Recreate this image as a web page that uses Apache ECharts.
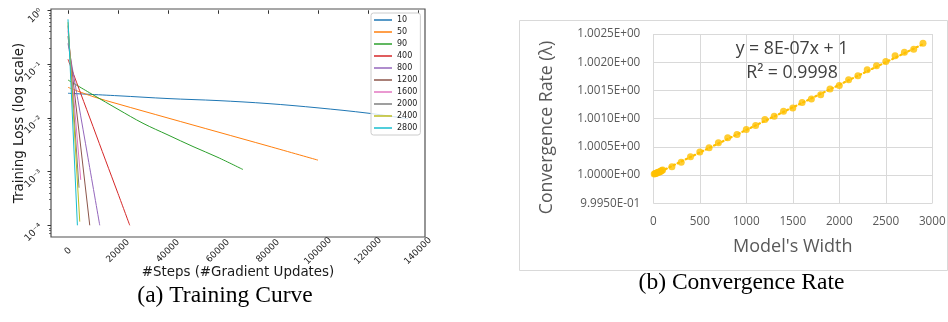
<!DOCTYPE html>
<html>
<head>
<meta charset="utf-8">
<script src="https://cdn.jsdelivr.net/npm/echarts@6/dist/echarts.min.js"></script>
<style>
  html, body { margin: 0; padding: 0; background: #ffffff; }
  #chart { width: 948px; height: 322px; }
</style>
</head>
<body>
<div id="chart"></div>
<script>
// ---- (a) Training curves: [step, training loss] for each model width ----
const widthNames = ['10', '50', '90', '400', '800', '1200', '1600', '2000', '2400', '2800'];
const curve10 = [[0, 0.0286], [20000, 0.0257], [40000, 0.0228], [60000, 0.0209], [80000, 0.0184], [100000, 0.0153], [120000, 0.0122], [136000, 0.0096]];
const curve50 = [[0, 0.0369], [10000, 0.0248], [20000, 0.0181], [40000, 0.0099], [60000, 0.00544], [80000, 0.00299], [100000, 0.00163]];
const curve90 = [[0, 0.0505], [10000, 0.0268], [20000, 0.0144], [30000, 0.0079], [40000, 0.00479], [50000, 0.00292], [60000, 0.00183], [70000, 0.00109]];
const curve400 = [[0, 0.1226], [5000, 0.029], [10000, 0.0069], [15000, 0.00163], [20000, 0.00039], [24700, 0.0001]];
const curve800 = [[0, 0.243], [4000, 0.0209], [8000, 0.0018], [12700, 0.0001]];
const curve1200 = [[0, 0.33], [8700, 0.0001]];
const curve1600 = [[0, 0.42], [5100, 0.0007]];
const curve2000 = [[0, 0.52], [4400, 0.0005]];
const curve2400 = [[0, 0.6], [4700, 0.000117]];
const curve2800 = [[0, 0.68], [3760, 0.0001]];
const curves = [curve10, curve50, curve90, curve400, curve800, curve1200, curve1600, curve2000, curve2400, curve2800];
const curveColors = ['#1f77b4', '#ff7f0e', '#2ca02c', '#d62728', '#9467bd', '#8c564b', '#e377c2', '#7f7f7f', '#bcbd22', '#17becf'];
const stepTicks = [0, 20000, 40000, 60000, 80000, 100000, 120000, 140000];
const stepRange = [-6800, 142800];
const lossLogRange = [-4.2177, 0.0242];
const lossDecades = [-4, -3, -2, -1, 0];

// ---- (b) Convergence rate against model width ----
const modelWidth = [10, 20, 30, 40, 50, 60, 70, 80, 90, 100,
  200, 300, 400, 500, 600, 700, 800, 900, 1000, 1100, 1200, 1300, 1400, 1500,
  1600, 1700, 1800, 1900, 2000, 2100, 2200, 2300, 2400, 2500, 2600, 2700, 2800, 2900];
const convRate = [1.00002, 1.00003, 1.00003, 1.00004, 1.00005, 1.00005, 1.00006, 1.00007, 1.00008, 1.00009,
  1.000148, 1.000229, 1.000325, 1.000410, 1.000484, 1.000572, 1.000660, 1.000718, 1.000807, 1.000877, 1.000983, 1.001041, 1.001130, 1.001190,
  1.001288, 1.001348, 1.001424, 1.001525, 1.001588, 1.001689, 1.001760, 1.001866, 1.001936, 1.002012, 1.002113, 1.002178, 1.002231, 1.002337];
const trendSlope = 8e-7;
const trendIntercept = 1;
const rSquared = 0.9998;

const supDigits = { '0': '⁰', '1': '¹', '2': '²', '3': '³', '4': '⁴', '5': '⁵', '6': '⁶', '7': '⁷', '8': '⁸', '9': '⁹', '-': '⁻' };
function powerLabel(v) {
  const p = Math.log10(v);
  if (Math.abs(p - Math.round(p)) > 1e-6) return '';
  return '10' + String(Math.round(p)).split('').map(c => supDigits[c]).join('');
}
function sciLabel(v) {
  const parts = v.toExponential(4).split('e');
  const e = parseInt(parts[1], 10);
  return parts[0] + 'E' + (e < 0 ? '-' : '+') + String(Math.abs(e)).padStart(2, '0');
}
function plainLabel(v) { return String(v); }

// log-spaced minor tick positions (in log10 units)
const minorLogTicks = [];
for (let k = -5; k <= 0; k++) {
  for (let m = 2; m <= 9; m++) {
    const t = Math.log10(m) + k;
    if (t > lossLogRange[0] && t < lossLogRange[1]) minorLogTicks.push(t);
  }
}

const mplFont = 'DejaVu Sans';
const xlFont = 'Open Sans';
const xlGray = '#595959';
const gridGray = '#d9d9d9';

const trendX = [0, modelWidth[modelWidth.length - 1]];

const chart = echarts.init(document.getElementById('chart'), null, { renderer: 'canvas' });
chart.setOption({
  animation: false,
  backgroundColor: '#ffffff',
  textStyle: { fontFamily: mplFont },
  grid: [
    { left: 51, top: 9, width: 374, height: 228, show: true, borderColor: '#505050', borderWidth: 1.2, backgroundColor: 'transparent', containLabel: false, outerBoundsMode: 'none' },
    { left: 653.3, top: 34, width: 279, height: 169.3, containLabel: false, outerBoundsMode: 'none' }
  ],
  legend: {
    data: widthNames,
    orient: 'vertical',
    left: 371, top: 13,
    icon: 'rect',
    itemWidth: 18, itemHeight: 1.5, itemGap: 4,
    padding: [3, 3],
    backgroundColor: 'rgba(255,255,255,0.8)',
    borderColor: '#cccccc', borderWidth: 1, borderRadius: 2.5,
    textStyle: { fontFamily: mplFont, fontSize: 8, color: '#1a1a1a', lineHeight: 8 }
  },
  xAxis: [
    {
      type: 'value', gridIndex: 0, min: stepRange[0], max: stepRange[1],
      name: '#Steps (#Gradient Updates)', nameLocation: 'middle', nameGap: 29.5, nameMoveOverlap: false,
      nameTextStyle: { fontFamily: mplFont, fontSize: 13.4, color: '#1a1a1a' },
      axisLine: { show: false },
      splitLine: { show: false },
      axisTick: { show: true, customValues: stepTicks, length: 3.5, lineStyle: { color: '#333', width: 1 } },
      axisLabel: { customValues: stepTicks, formatter: plainLabel, rotate: 45, align: 'center', verticalAlign: 'middle', margin: 14, fontFamily: mplFont, fontSize: 9, color: '#1a1a1a' }
    },
    {
      type: 'value', gridIndex: 1, min: 0, max: 3000, interval: 500,
      name: "Model's Width", nameLocation: 'middle', nameGap: 35, nameMoveOverlap: false,
      nameTextStyle: { fontFamily: xlFont, fontSize: 18, color: xlGray },
      axisLine: { show: false },
      axisTick: { show: false },
      splitLine: { show: true, lineStyle: { color: gridGray, width: 1 } },
      axisLabel: { margin: 12, formatter: plainLabel, fontFamily: xlFont, fontSize: 11.7, color: xlGray }
    }
  ],
  yAxis: [
    {
      type: 'log', gridIndex: 0, logBase: 10, position: 'left',
      min: Math.pow(10, lossLogRange[0]), max: Math.pow(10, lossLogRange[1]),
      name: 'Training Loss (log scale)', nameLocation: 'middle', nameGap: 25, nameMoveOverlap: false,
      nameTextStyle: { fontFamily: mplFont, fontSize: 13.4, color: '#1a1a1a' },
      axisLine: { show: false },
      splitLine: { show: false },
      axisTick: { show: false },
      axisLabel: { rotate: 45, margin: 10, fontFamily: mplFont, fontSize: 9.5, color: '#1a1a1a', formatter: powerLabel, showMinLabel: false, showMaxLabel: false }
    },
    {
      // major decade ticks
      type: 'value', gridIndex: 0, position: 'left', offset: 0,
      min: lossLogRange[0], max: lossLogRange[1],
      axisLine: { show: false }, splitLine: { show: false }, axisLabel: { show: false },
      axisTick: { show: true, customValues: lossDecades, length: 3.5, lineStyle: { color: '#333', width: 1 } }
    },
    {
      // minor ticks between decades
      type: 'value', gridIndex: 0, position: 'left', offset: 0,
      min: lossLogRange[0], max: lossLogRange[1],
      axisLine: { show: false }, splitLine: { show: false }, axisLabel: { show: false },
      axisTick: { show: true, customValues: minorLogTicks, length: 2, lineStyle: { color: '#333', width: 0.7 } }
    },
    {
      type: 'value', gridIndex: 1, position: 'left', min: 0.9995, max: 1.0025, interval: 0.0005,
      axisLine: { show: false },
      axisTick: { show: false },
      splitLine: { show: true, lineStyle: { color: gridGray, width: 1 } },
      axisLabel: { margin: 13, fontFamily: xlFont, fontSize: 11.7, color: xlGray, formatter: sciLabel }
    }
  ],
  series: curves.map((c, i) => ({
    name: widthNames[i], type: 'line', xAxisIndex: 0, yAxisIndex: 0,
    data: c, symbol: 'none', showSymbol: false, smooth: c.length > 3 ? 0.35 : false,
    lineStyle: { width: 1, color: curveColors[i] }, itemStyle: { color: curveColors[i] },
    z: 2 + i
  })).concat([
    {
      name: 'rate', type: 'scatter', xAxisIndex: 1, yAxisIndex: 3,
      data: modelWidth.map((w, i) => [w, convRate[i]]),
      symbol: 'circle', symbolSize: 7,
      itemStyle: { color: '#ffc000' }, z: 3
    },
    {
      name: 'trend', type: 'line', xAxisIndex: 1, yAxisIndex: 3,
      data: trendX.map(x => [x, trendIntercept + trendSlope * x]),
      symbol: 'none', showSymbol: false,
      lineStyle: { color: '#ffc000', width: 2.2, type: [1.5, 3], cap: 'round' }, z: 4
    }
  ]),
  graphic: [
    { type: 'rect', shape: { x: 519.5, y: 20.5, width: 428, height: 250 }, style: { fill: 'none', stroke: gridGray, lineWidth: 1 }, z: 0 },
    { type: 'text', x: 792, y: 49.3, style: { text: 'y = ' + trendSlope.toExponential(0).toUpperCase().replace('E-7', 'E-07') + 'x + ' + trendIntercept, font: '17.7px "Open Sans"', fill: '#404040', align: 'center', verticalAlign: 'middle' }, z: 10 },
    { type: 'text', x: 792, y: 72.7, style: { text: 'R² = ' + rSquared, font: '17.7px "Open Sans"', fill: '#404040', align: 'center', verticalAlign: 'middle' }, z: 10 },
    { type: 'text', x: 546.7, y: 127.5, rotation: Math.PI / 2, style: { text: 'Convergence Rate (λ)', font: '17.7px "Open Sans"', fill: xlGray, align: 'center', verticalAlign: 'middle' }, z: 10 },
    { type: 'text', x: 225, y: 296, style: { text: '(a) Training Curve', font: '23.5px "Liberation Serif"', fill: '#000', align: 'center', verticalAlign: 'middle' }, z: 10 },
    { type: 'text', x: 741.5, y: 283.3, style: { text: '(b) Convergence Rate', font: '23.5px "Liberation Serif"', fill: '#000', align: 'center', verticalAlign: 'middle' }, z: 10 }
  ]
});
</script>
</body>
</html>
